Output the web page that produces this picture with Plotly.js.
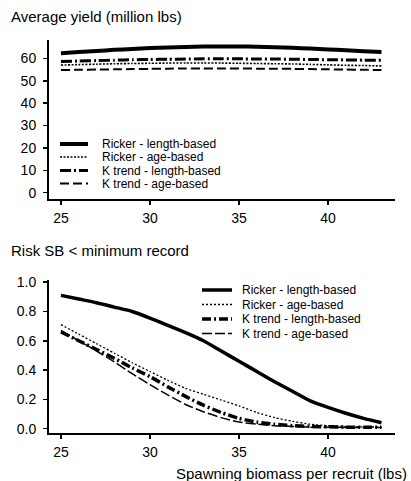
<!DOCTYPE html>
<html>
<head>
<meta charset="utf-8">
<script src="https://cdn.plot.ly/plotly-3.0.1.min.js"></script>
<style>html,body{margin:0;padding:0;background:#fff;}#chart{width:411px;height:481px;}</style>
</head>
<body>
<div id="chart"></div>
<script>
// ---- data ----
var sbpr = [25,26,27,28,29,30,31,32,33,34,35,36,37,38,39,40,41,42,43];
var seriesNames = ["Ricker - length-based","Ricker - age-based","K trend - length-based","K trend - age-based"];

// Average yield (million lbs)
var yieldRickerLength = [62.3,62.8,63.3,63.8,64.2,64.6,64.9,65.1,65.3,65.3,65.3,65.2,65.0,64.7,64.4,64.0,63.6,63.2,62.8];
var yieldRickerAge    = [57.0,57.2,57.4,57.6,57.7,57.8,57.9,57.9,57.9,57.9,57.8,57.7,57.6,57.5,57.3,57.1,56.9,56.8,56.6];
var yieldKLength      = [58.6,58.8,59.0,59.2,59.4,59.5,59.6,59.7,59.8,59.8,59.8,59.7,59.7,59.6,59.5,59.4,59.3,59.2,59.1];
var yieldKAge         = [54.8,54.9,55.0,55.1,55.2,55.3,55.4,55.5,55.5,55.5,55.5,55.4,55.4,55.3,55.2,55.1,55.0,54.9,54.8];

// Risk SB < minimum record
var riskRickerLength = [0.91,0.885,0.86,0.83,0.80,0.755,0.705,0.655,0.60,0.53,0.46,0.39,0.32,0.255,0.19,0.145,0.105,0.07,0.04];
var riskRickerAge    = [0.71,0.645,0.58,0.515,0.45,0.39,0.33,0.275,0.235,0.195,0.155,0.11,0.075,0.05,0.03,0.02,0.015,0.012,0.01];
var riskKLength      = [0.66,0.60,0.54,0.48,0.415,0.355,0.285,0.22,0.16,0.11,0.07,0.045,0.03,0.02,0.015,0.012,0.01,0.01,0.01];
var riskKAge         = [0.67,0.60,0.53,0.455,0.375,0.30,0.23,0.165,0.115,0.075,0.045,0.03,0.02,0.015,0.01,0.01,0.008,0.008,0.008];

var xTicks = [25,30,35,40];
var yTicksTop = [0,10,20,30,40,50,60];
var yTicksBottom = [0,0.2,0.4,0.6,0.8,1.0];

var topTitle = "Average yield (million lbs)";
var bottomTitle = "Risk SB < minimum record";
var xTitle = "Spawning biomass per recruit (lbs)";

// ---- styles ----
var W = 411, H = 481;
var FONT = "Liberation Sans, Arial, Helvetica, sans-serif";
var stylesTop = [
  {width:4, dash:"solid"},
  {width:1.6, dash:"2px,1.5px"},
  {width:3, dash:"11px,3px,2px,3px"},
  {width:2, dash:"9px,4px"}
];
var stylesBottom = [
  {width:3.5, dash:"solid"},
  {width:1.3, dash:"2px,2px"},
  {width:3.5, dash:"9px,3px,2px,3px"},
  {width:1.5, dash:"10px,3px"}
];

var topData = [yieldRickerLength, yieldRickerAge, yieldKLength, yieldKAge];
var botData = [riskRickerLength, riskRickerAge, riskKLength, riskKAge];

var traces = [];
for (var i = 0; i < 4; i++) {
  traces.push({x: sbpr, y: topData[i], type: "scatter", mode: "lines", name: seriesNames[i],
    xaxis: "x", yaxis: "y", showlegend: false,
    line: {color: "#000", width: stylesTop[i].width, dash: stylesTop[i].dash, shape: "spline", smoothing: 0.6}});
}
for (var i = 0; i < 4; i++) {
  traces.push({x: sbpr, y: botData[i], type: "scatter", mode: "lines", name: seriesNames[i],
    xaxis: "x2", yaxis: "y2", showlegend: false,
    line: {color: "#000", width: stylesBottom[i].width, dash: stylesBottom[i].dash, shape: "spline", smoothing: 0.6}});
}

function px(x){ return x / W; }
function py(y){ return 1 - y / H; }

var axisCommon = {
  showline: true, linecolor: "#000", linewidth: 2, mirror: false,
  showgrid: false, zeroline: false, ticks: "outside", ticklen: 4, tickwidth: 1.5, tickcolor: "#000",
  tickfont: {family: FONT, size: 14, color: "#000"}, fixedrange: true
};
function ax(extra){ var o = {}; for (var k in axisCommon) o[k] = axisCommon[k]; for (var k in extra) o[k] = extra[k]; return o; }

var shapes = [], annotations = [];
function addLegend(x0, x1, xt, rows, styles) {
  for (var i = 0; i < 4; i++) {
    shapes.push({type: "line", xref: "paper", yref: "paper", x0: px(x0), x1: px(x1), y0: py(rows[i]), y1: py(rows[i]),
      line: {color: "#000", width: styles[i].width, dash: styles[i].dash}});
    annotations.push({xref: "paper", yref: "paper", x: px(xt), y: py(rows[i]), xanchor: "left", yanchor: "middle",
      text: seriesNames[i], showarrow: false, font: {family: FONT, size: 12, color: "#000"}});
  }
}
addLegend(60, 88, 100, [144, 157, 170.5, 183.5], stylesTop);
addLegend(202, 232, 240, [290, 304.5, 319, 333.5], stylesBottom);

annotations.push({xref: "paper", yref: "paper", x: px(9), y: py(16), xanchor: "left", yanchor: "middle",
  text: topTitle, showarrow: false, font: {family: FONT, size: 15, color: "#000"}});
annotations.push({xref: "paper", yref: "paper", x: px(9), y: py(250), xanchor: "left", yanchor: "middle",
  text: bottomTitle, showarrow: false, font: {family: FONT, size: 15, color: "#000"}});
annotations.push({xref: "paper", yref: "paper", x: px(409), y: py(473), xanchor: "right", yanchor: "middle",
  text: xTitle, showarrow: false, font: {family: FONT, size: 15, color: "#000"}});

var layout = {
  width: W, height: H,
  margin: {l: 0, r: 0, t: 0, b: 0},
  paper_bgcolor: "#fff", plot_bgcolor: "#fff",
  showlegend: false,
  font: {family: FONT, color: "#000"},
  xaxis: ax({domain: [px(49), px(395)], range: [24.33, 43.76], tickvals: xTicks, anchor: "y", ticklabelstandoff: 1}),
  yaxis: ax({domain: [py(199), py(40)], range: [-2.8, 68.2], tickvals: yTicksTop, anchor: "x", ticklabelstandoff: 4}),
  xaxis2: ax({domain: [px(49), px(395)], range: [24.33, 43.76], tickvals: xTicks, anchor: "y2", ticklabelstandoff: 1}),
  yaxis2: ax({domain: [py(433), py(280)], range: [-0.03, 1.015], tickvals: yTicksBottom, tickformat: ".1f", anchor: "x2", ticklabelstandoff: 4}),
  shapes: shapes,
  annotations: annotations
};

Plotly.newPlot("chart", traces, layout, {displayModeBar: false, staticPlot: true});
</script>
</body>
</html>
